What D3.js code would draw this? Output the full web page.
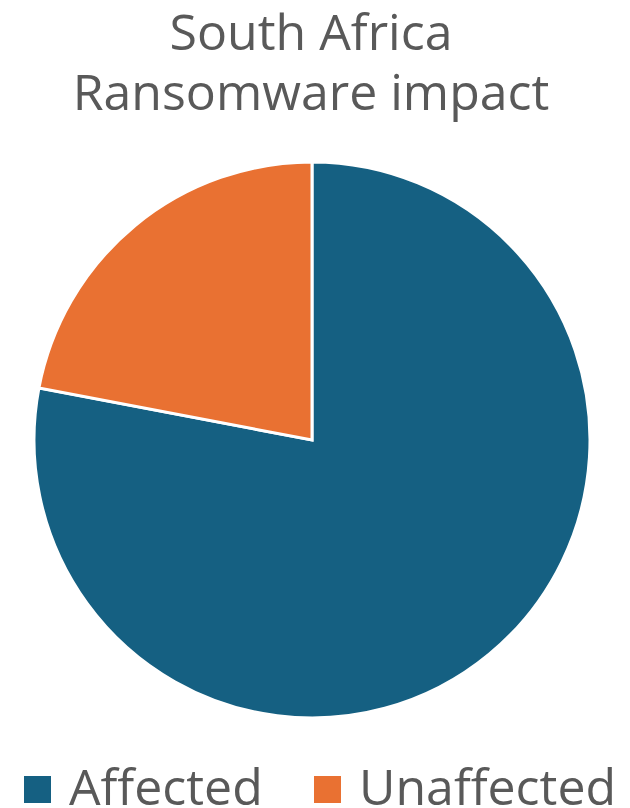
<!DOCTYPE html>
<html lang="en">
<head>
  <meta charset="utf-8">
  <title>South Africa Ransomware impact</title>
  <script src="https://d3js.org/d3.v7.min.js"></script>
  <style>
    body { margin: 0; background: #fff; }
    svg text { font-family: "Open Sans", sans-serif; fill: #595959; }
  </style>
</head>
<body>
<svg></svg>
<script>
var categories = ['Affected', 'Unaffected'];
var values = [78, 22];
var colors = ['#156082', '#E97132'];
var titleLines = ['South Africa', 'Ransomware impact'];

var width = 630, height = 808;
var svg = d3.select('svg').attr('width', width).attr('height', height);

// title
svg.selectAll('text.title')
  .data(titleLines)
  .enter().append('text')
  .attr('class', 'title')
  .attr('x', 311)
  .attr('y', (d, i) => 50 + i * 60)
  .attr('text-anchor', 'middle')
  .attr('font-size', 50)
  .text(d => d);

var data = categories.map((c, i) => ({name: c, value: values[i]}));
var pie = d3.pie().sort(null).value(d => d.value);
var arc = d3.arc().innerRadius(0).outerRadius(278);

var color = d3.scaleOrdinal().domain(categories).range(colors);

svg.append('g')
  .attr('transform', 'translate(312,440)')
  .selectAll('path')
  .data(pie(data))
  .enter().append('path')
  .attr('d', arc)
  .attr('fill', d => color(d.data.name))
  .attr('stroke', '#fff')
  .attr('stroke-width', 3);

// legend
var legendX = [24, 314];
var lg = svg.selectAll('g.legend')
  .data(categories)
  .enter().append('g')
  .attr('class', 'legend')
  .attr('transform', (d, i) => `translate(${legendX[i]},776)`);
lg.append('rect')
  .attr('width', 27)
  .attr('height', 27)
  .attr('fill', d => color(d));
lg.append('text')
  .attr('x', 45)
  .attr('y', 29)
  .attr('font-size', 50)
  .text(d => d);
</script>
</body>
</html>
